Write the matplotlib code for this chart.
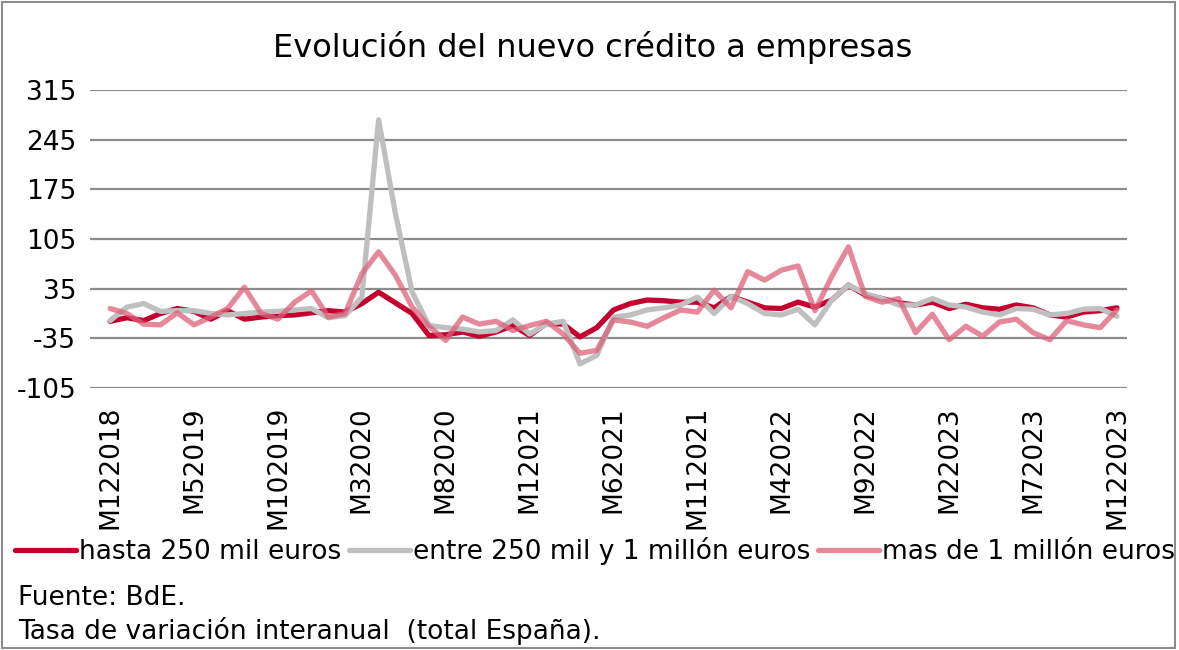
import matplotlib.pyplot as plt
from matplotlib.patches import Rectangle

plt.rcParams['axes.unicode_minus'] = False

# monthly, M12 2018 .. M12 2023
months = []
for y in range(2018, 2024):
    for m in range(1, 13):
        if y == 2018 and m < 12:
            continue
        months.append(f"M{m}{y}")

hasta_250 = [-11, -6, -10, 0, 7, 3, -8, 4, -8, -5, -3, -2, 1, 4, 2, 14, 30, 15, 0, -31,
             -30, -26, -32, -26, -17, -31, -14, -15, -33, -20, 5, 14, 19, 18, 16, 16, 8, 24, 16, 8,
             7, 16, 9, 19, 40, 26, 21, 15, 12, 16, 7, 13, 8, 6, 12, 8, -2, -5, 2, 4, 8]
entre_250_1m = [-10, 9, 14, 3, 4, 4, 0, -2, 0, 2, 3, 5, 7, -6, -3, 23, 273, 141, 30, -17,
                -20, -22, -26, -24, -9, -29, -15, -11, -71, -59, -5, -2, 5, 8, 12, 23, 0, 24, 14, 0,
                -2, 6, -16, 19, 40, 28, 21, 12, 12, 21, 12, 9, 2, -2, 7, 6, -2, 0, 6, 7, -4]
mas_1m = [7, 0, -15, -16, 1, -16, -5, 7, 37, 0, -8, 16, 32, -5, 0, 56, 87, 54, 9, -18,
          -38, -5, -15, -11, -24, -17, -11, -29, -56, -52, -9, -12, -18, -6, 5, 2, 33, 8, 59, 47,
          61, 67, 4, 52, 94, 24, 16, 21, -27, -1, -37, -18, -32, -12, -8, -27, -37, -10, -16, -20, 5]

yticks = [-105, -35, 35, 105, 175, 245, 315]

fig = plt.figure(figsize=(11.79, 6.5), dpi=100)
ax = fig.add_axes([90 / 1179, 1 - 388 / 650, (1127 - 90) / 1179, (388 - 90) / 650])

x = range(len(months))
ax.plot(x, hasta_250, color='#C4002F', lw=3.8, solid_capstyle='round', label='hasta 250 mil euros', zorder=3)
ax.plot(x, entre_250_1m, color='#BFBFBF', lw=3.8, solid_capstyle='round', label='entre 250 mil y 1 millón euros', zorder=4)
ax.plot(x, mas_1m, color='#DB6078', lw=3.8, alpha=0.75, solid_capstyle='round', label='mas de 1 millón euros', zorder=5)

ax.set_ylim(-105, 315)
ax.set_yticks(yticks)
ax.set_xlim(-1.2, len(months) - 1 + 0.6)
ax.set_xticks(list(range(0, len(months), 5)))
ax.set_xticklabels(months[::5], rotation=90)
ax.grid(axis='y', color='#8C8C8C', lw=1.6)
ax.set_axisbelow(True)
for s in ax.spines.values():
    s.set_visible(False)
ax.tick_params(length=0, labelsize=19, colors='black')
ax.tick_params(axis='y', pad=10)
ax.tick_params(axis='x', pad=13)

fig.text(0.503, 1 - 48 / 650, 'Evolución del nuevo crédito a empresas', ha='center', va='center', fontsize=23)

fig.legend(loc='center left', bbox_to_anchor=(15 / 1179, 1 - 551 / 650), ncol=3, frameon=False,
           fontsize=19, handlelength=2.3, handletextpad=0.12, columnspacing=0.3, borderaxespad=0,
           borderpad=0)

fig.text(18 / 1179, 1 - 598 / 650, 'Fuente: BdE.', va='center', fontsize=19)
fig.text(18 / 1179, 1 - 631 / 650, 'Tasa de variación interanual  (total España).', va='center', fontsize=19)

fig.patches.append(Rectangle((0.002, 0.003), 0.995, 0.994, transform=fig.transFigure,
                             fill=False, edgecolor='#8C8C8C', lw=1.5))

fig.savefig('out.png', dpi=100)
